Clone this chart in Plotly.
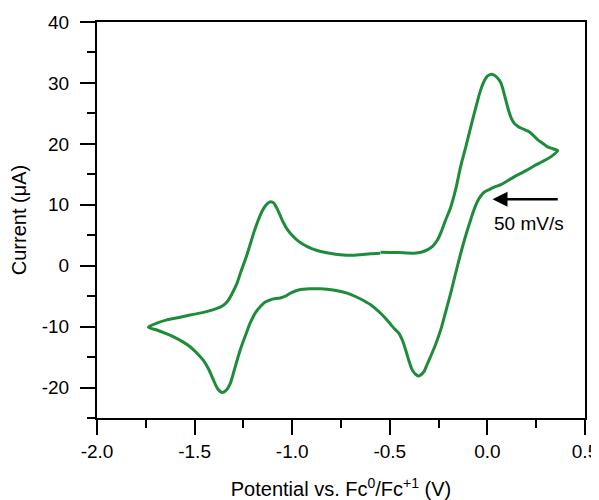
import plotly.graph_objects as go

# Cyclic voltammogram (start at -0.547 V, sweep positive first)
upper_fwd_x = [-0.547, -0.46, -0.376, -0.34, -0.308, -0.28, -0.256, -0.235, -0.214, -0.188,
               -0.162, -0.137, -0.110, -0.085, -0.060, -0.034, -0.015, 0.0, 0.017, 0.034,
               0.052, 0.069, 0.086, 0.103, 0.12, 0.137, 0.155, 0.171, 0.192, 0.214,
               0.235, 0.257, 0.283, 0.308, 0.335, 0.360]
upper_fwd_y = [2.2, 2.15, 2.05, 2.2, 2.6, 3.2, 4.2, 5.7, 7.5, 9.6,
               12.6, 16.3, 19.6, 22.8, 25.9, 28.9, 30.4, 31.1, 31.4, 31.3,
               30.8, 30.0, 28.2, 26.1, 24.4, 23.4, 22.9, 22.6, 22.3, 22.0,
               21.4, 20.7, 20.1, 19.5, 19.2, 18.9]

lower_x = [0.326, 0.283, 0.240, 0.198, 0.155, 0.112, 0.069, 0.035, 0.009, -0.015,
           -0.030, -0.045, -0.060, -0.075, -0.090, -0.102, -0.125, -0.145, -0.167, -0.188,
           -0.214, -0.239, -0.265, -0.291, -0.310, -0.325, -0.340, -0.351, -0.365, -0.385,
           -0.402, -0.419, -0.436, -0.453, -0.475, -0.496, -0.520, -0.547, -0.575, -0.598,
           -0.630, -0.660, -0.718, -0.790, -0.855, -0.910, -0.967, -1.009, -1.035, -1.061,
           -1.085, -1.112, -1.140, -1.163, -1.190, -1.215, -1.240, -1.266, -1.292, -1.317,
           -1.340, -1.360, -1.382, -1.403, -1.428, -1.454, -1.490, -1.523, -1.560, -1.600,
           -1.642, -1.690, -1.737]
lower_y = [17.9, 17.1, 16.4, 15.6, 14.9, 14.1, 13.3, 12.9, 12.5, 12.1,
           11.6, 10.9, 9.9, 8.6, 7.1, 5.9, 3.4, 1.0, -1.8, -4.5,
           -7.6, -10.5, -12.9, -14.9, -16.3, -17.4, -17.9, -18.1, -17.9, -17.1,
           -15.6, -13.8, -12.2, -11.1, -10.4, -9.6, -8.7, -7.8, -7.0, -6.4,
           -5.8, -5.3, -4.5, -4.0, -3.8, -3.8, -4.0, -4.5, -5.0, -5.3,
           -5.4, -5.6, -6.0, -6.7, -7.8, -9.4, -11.5, -13.8, -16.6, -19.3,
           -20.5, -20.8, -20.2, -18.8, -17.0, -15.6, -14.3, -13.3, -12.5, -11.8,
           -11.2, -10.6, -10.1]

upper_ret_x = [-1.69, -1.642, -1.58, -1.523, -1.46, -1.403, -1.369, -1.345, -1.326, -1.305,
               -1.283, -1.262, -1.240, -1.219, -1.198, -1.176, -1.155, -1.133, -1.112, -1.095,
               -1.078, -1.061, -1.044, -1.026, -1.009, -0.967, -0.92, -0.872, -0.80, -0.753,
               -0.701, -0.65, -0.60, -0.549]
upper_ret_y = [-9.4, -8.9, -8.5, -8.1, -7.7, -7.2, -6.8, -6.3, -5.6, -4.4,
               -2.9, -0.9, 1.0, 3.1, 5.3, 7.3, 8.9, 10.0, 10.5, 10.3,
               9.4, 8.2, 7.0, 6.0, 5.3, 4.0, 3.1, 2.5, 2.0, 1.8,
               1.7, 1.8, 1.95, 2.05]

potential = upper_fwd_x + lower_x + upper_ret_x
current = upper_fwd_y + lower_y + upper_ret_y

x_ticks = [-2.0, -1.5, -1.0, -0.5, 0.0, 0.5]
x_tick_labels = ["-2.0", "-1.5", "-1.0", "-0.5", "0.0", "0.5"]
y_ticks = [-20, -10, 0, 10, 20, 30, 40]
y_tick_labels = ["-20", "-10", "0", "10", "20", "30", "40"]

arrow_tail = (0.368, 10.9)
arrow_tip = (0.026, 10.9)
label_pos = (0.215, 7.0)
label_text = "50 mV/s"

FONT = "Liberation Sans, Arial, sans-serif"

fig = go.Figure()
fig.add_trace(go.Scatter(
    x=potential, y=current, mode="lines",
    line=dict(color="#1e8c3a", width=3, shape="spline", smoothing=0.8),
    hoverinfo="skip", showlegend=False,
))

fig.add_annotation(
    x=arrow_tip[0], y=arrow_tip[1], ax=arrow_tail[0], ay=arrow_tail[1],
    xref="x", yref="y", axref="x", ayref="y",
    showarrow=True, arrowhead=2, arrowsize=1.2, arrowwidth=2.5, arrowcolor="black", text="",
)
fig.add_annotation(
    x=label_pos[0], y=label_pos[1], xref="x", yref="y", text=label_text,
    showarrow=False, font=dict(family=FONT, size=19, color="black"),
)

axis_common = dict(
    showline=True, linecolor="black", linewidth=2, mirror=True,
    ticks="outside", ticklen=15, tickwidth=2, tickcolor="black",
    showgrid=False, zeroline=False, ticklabeloverflow="allow",
    tickfont=dict(family=FONT, size=19, color="black"),
)

fig.update_xaxes(
    range=[-2.0, 0.5], tickvals=x_ticks, ticktext=x_tick_labels,
    minor=dict(ticks="outside", ticklen=8, tickwidth=2, tickcolor="black", dtick=0.25, showgrid=False),
    title=dict(text="Potential vs. Fc<sup>0</sup>/Fc<sup>+1</sup> (V)",
               font=dict(family=FONT, size=20, color="black"), standoff=22),
    **axis_common,
)
fig.update_yaxes(
    range=[-25, 40], tickvals=y_ticks, ticktext=y_tick_labels,
    minor=dict(ticks="outside", ticklen=8, tickwidth=2, tickcolor="black", dtick=5, showgrid=False),
    ticklabelstandoff=7,
    title=dict(text="Current (μA)", font=dict(family=FONT, size=20, color="black"), standoff=12),
    **axis_common,
)

# the page body adds an 8px margin, so the figure is offset to land the axes where the reference has them
fig.update_layout(
    width=591, height=492,
    margin=dict(l=89, r=14, t=14, b=82, autoexpand=False),
    plot_bgcolor="white", paper_bgcolor="white",
)

fig.write_html("out.html")
